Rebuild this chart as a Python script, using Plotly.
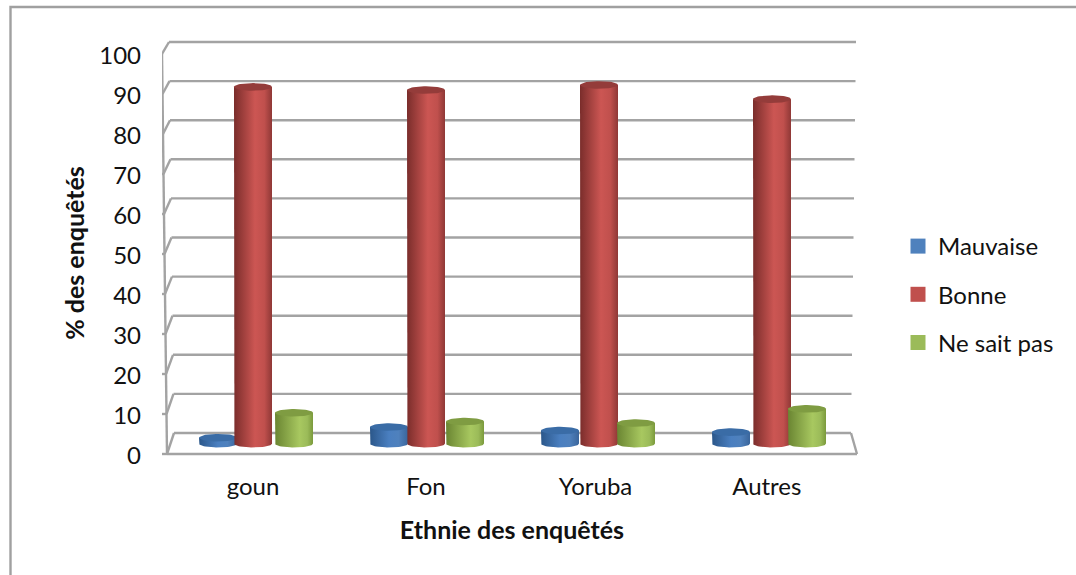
import numpy as np
import plotly.graph_objects as go

categories = ["goun", "Fon", "Yoruba", "Autres"]
mauvaise = [1.5, 4.2, 3.3, 2.9]
bonne = [90.3, 89.5, 90.8, 87.2]
ne_sait_pas = [7.8, 5.6, 5.2, 8.8]
y_ticks = list(range(0, 101, 10))
label_positions = [0, 1, 1.98, 2.97]

FONT = "Lato"
W, H = 1076, 575
L, R, T, B = 162, 862, 38, 468
CAT0, CATSTEP = 253, 173


def X(p):
    return (p - CAT0) / CATSTEP


def Yp(p):
    return (454 - p) / 4


def project(v):
    return 2.6 + 0.9875 * v


series = [
    ("Mauvaise", mauvaise, -35, -2, "#4f81bd",
     [[0, "#2b578a"], [0.5, "#4a7fc0"], [0.75, "#4f81bd"], [1, "#3a659b"]], "#3a6ca6"),
    ("Bonne", bonne, 0, 0, "#c0504d",
     [[0, "#7a2d2b"], [0.55, "#cc5653"], [0.8, "#c0504d"], [1, "#8f3836"]], "#943c3a"),
    ("Ne sait pas", ne_sait_pas, 41, -2, "#9bbb59",
     [[0, "#6a8532"], [0.65, "#a8c860"], [0.85, "#9bbb59"], [1, "#7b9a3c"]], "#7f9c42"),
]

fig = go.Figure()
rx, ry = X(CAT0 + 19), 0.95
theta = np.linspace(0, 2 * np.pi, 61)
arc = np.linspace(np.pi, 2 * np.pi, 31)

for name, values, off, drift, col, scale, top in series:
    for i, v in enumerate(values):
        cx = i + X(CAT0 + off + drift * i)
        y0, y1 = project(0), project(v)
        xs = np.concatenate([[cx - rx], cx + rx * np.cos(arc), [cx + rx, cx - rx]])
        ys = np.concatenate([[y1], y0 + ry * np.sin(arc), [y1, y1]])
        fig.add_trace(go.Scatter(
            x=xs, y=ys, mode="lines", fill="toself", line=dict(width=0),
            fillgradient=dict(type="horizontal", colorscale=scale),
            showlegend=False, hoverinfo="skip", legendgroup=name))
        fig.add_trace(go.Scatter(
            x=cx + rx * np.cos(theta), y=y1 + ry * np.sin(theta), mode="lines",
            fill="toself", fillcolor=top, line=dict(width=0),
            showlegend=False, name=name, text=f"{categories[i]}: {v}", hoverinfo="text",
            legendgroup=name))

for name, values, off, drift, col, scale, top in series:
    fig.add_trace(go.Scatter(
        x=[None], y=[None], mode="markers", name=name, legendgroup=name,
        marker=dict(symbol="square", size=15, color=col)))

GRID = dict(color="#a3a3a3", width=2.4)
shapes = []


def seg(x0, y0, x1, y1):
    shapes.append(dict(type="line", xref="x", yref="y", x0=X(x0), y0=Yp(y0), x1=X(x1), y1=Yp(y1),
                       line=GRID, layer="below"))


for v in y_ticks:
    fy = 454 - 4 * v
    by = 433 - 3.91 * v
    fx = 167 - 0.05 * v
    bx = fx + 7
    rx_back = 851 + 0.05 * v
    seg(bx, by, rx_back, by)
    seg(fx, fy, bx, by)
    seg(fx - 7, fy, fx, fy)
seg(167, 454, 162, 54)
seg(167, 454, 857, 454)
seg(857, 454, 851, 433)


def PX(p):
    return (p - L) / (R - L)


def PY(p):
    return (B - p) / (B - T)


# outer chart frame
shapes.append(dict(type="path", xref="paper", yref="paper",
                   path=f"M {PX(10.5):.5f} {PY(575):.5f} L {PX(10.5):.5f} {PY(7):.5f} L {PX(1076):.5f} {PY(7):.5f}",
                   line=dict(color="#a0a0a0", width=2.4), layer="below"))

fig.update_layout(
    width=W, height=H, autosize=False,
    margin=dict(l=L, r=W - R, t=T, b=H - B),
    paper_bgcolor="white", plot_bgcolor="white",
    font=dict(family=FONT, size=24, color="#111111"),
    shapes=shapes,
    legend=dict(x=PX(898), xanchor="left", y=PY(224), yanchor="top",
                tracegroupgap=14, font=dict(size=24), itemclick=False, itemdoubleclick=False,
                bgcolor="rgba(0,0,0,0)"),
    xaxis=dict(range=[X(L), X(R)], tickmode="array", tickvals=label_positions, ticktext=categories,
               showgrid=False, zeroline=False, showline=False, ticks="", ticklabelstandoff=2,
               title=dict(text="<b>Ethnie des enquêtés</b>", standoff=22, font=dict(size=25))),
    yaxis=dict(range=[Yp(468), Yp(38)], tickmode="array", tickvals=y_ticks,
               showgrid=False, zeroline=False, showline=False, ticks="", ticklabelstandoff=20,
               ticklabelshift=2,
               title=dict(text="<b>% des enquêtés</b>", standoff=7, font=dict(size=25))),
)

fig.write_html("out.html", post_script="document.body.style.margin='0';",
               config={"displayModeBar": False})
